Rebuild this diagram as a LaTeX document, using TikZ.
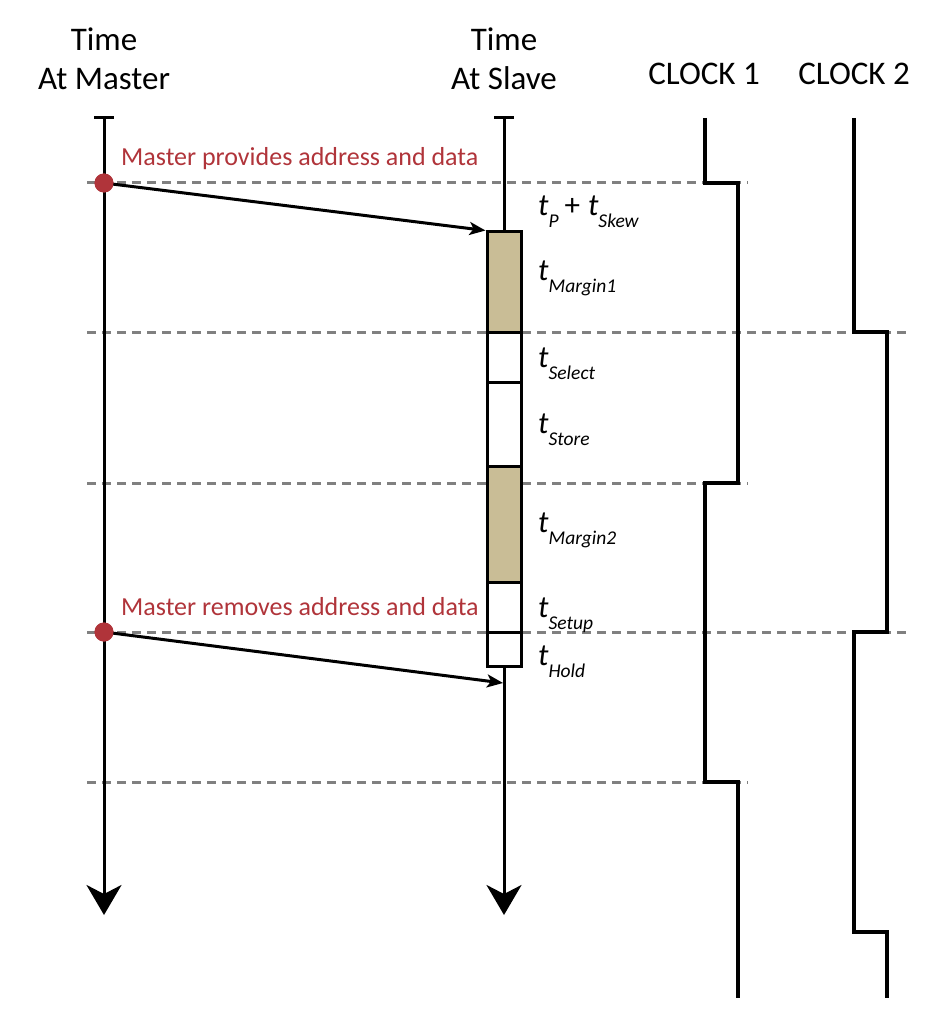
\documentclass[tikz,border=0pt]{standalone}
\usepackage{fontspec}
\setmainfont{Carlito}
\usetikzlibrary{arrows.meta}
\definecolor{mred}{RGB}{176,52,58}
\definecolor{dgray}{RGB}{128,128,128}
\definecolor{tanfill}{RGB}{201,189,150}
\newcommand{\tlab}[1]{{\fontsize{31}{31}\selectfont\itshape t}\raisebox{-12pt}{\fontsize{19.5}{19.5}\selectfont\itshape #1}}
\begin{document}
\begin{tikzpicture}[x=1pt,y=-1pt,
  axis/.style={line width=3pt,black},
  gridline/.style={dgray,line width=3pt,dash pattern=on 9pt off 6pt},
  clk/.style={line width=3.5pt,black,line join=miter},
  seg/.style={draw,line width=3pt,minimum width=34pt,inner sep=0pt,fill=white},
  dotn/.style={circle,fill=mred,minimum size=19pt,inner sep=0pt},
  title/.style={font=\fontsize{33}{39}\selectfont,align=center,inner sep=0pt},
  lab/.style={anchor=base west,inner sep=0pt},
  redlab/.style={anchor=base west,inner sep=0pt,text=mred,font=\fontsize{26}{30}\selectfont},
  bigarrow/.style={-{Stealth[length=30pt,width=35pt,inset=9pt]}},
  smallarrow/.style={-{Stealth[length=16pt,width=13pt,inset=4pt]}}]
\useasboundingbox (0,0) rectangle (924,1016);

% dashed guide lines
\draw[gridline] (87,183) -- (748,183);
\draw[gridline] (87,332) -- (906,332);
\draw[gridline] (87,483) -- (748,483);
\draw[gridline] (87,632) -- (906,632);
\draw[gridline] (87,782) -- (748,782);

% titles
\node[title,anchor=base] (tm) at (104,90) {Time\\At Master};
\node[title,anchor=base] (ts) at (504,90) {Time\\At Slave};
\node[title,anchor=base] (c1) at (704,85) {CLOCK 1};
\node[title,anchor=base] (c2) at (854,85) {CLOCK 2};

% master line
\coordinate (mtop) at (104,118);
\coordinate (mend) at (104,915);
\draw[axis] ([xshift=-10pt]mtop) -- ([xshift=10pt]mtop);
\draw[axis,bigarrow] (mtop) -- (mend);

% slave box segments
\node[seg,fill=tanfill,minimum height=100pt] (m1) at (504,282) {};
\node[seg,minimum height=50pt] (sel) at (504,357) {};
\node[seg,minimum height=84pt] (sto) at (504,424) {};
\node[seg,fill=tanfill,minimum height=116pt] (m2) at (504,524) {};
\node[seg,minimum height=50pt] (setup) at (504,607) {};
\node[seg,minimum height=34pt] (hold) at (504,649) {};

% slave line
\coordinate (stop) at (504,118);
\coordinate (send) at (504,915);
\draw[axis] ([xshift=-10pt]stop) -- ([xshift=10pt]stop);
\draw[axis] (stop) -- (m1.north);
\draw[axis,bigarrow] (hold.south) -- (send);

% events
\node[dotn] (d1) at (104,183) {};
\node[dotn] (d2) at (104,632) {};
\coordinate (h2) at (503,683);
\draw[axis,smallarrow] (d1.center) -- (m1.north west);
\draw[axis,smallarrow] (d2.center) -- (h2);
\node[dotn] at (d1) {};
\node[dotn] at (d2) {};
\node[redlab] (r1) at (121,166) {Master provides address and data};
\node[redlab] (r2) at (121,615) {Master removes address and data};

% timing labels
\node[lab] (l0) at (538,216) {\tlab{P}\hspace{6pt}{\fontsize{31}{31}\selectfont+}\hspace{8pt}\tlab{Skew}};
\node[lab] (l1) at (538,280) {\tlab{Margin1}};
\node[lab] (l2) at (538,367) {\tlab{Select}};
\node[lab] (l3) at (538,433) {\tlab{Store}};
\node[lab] (l4) at (538,532) {\tlab{Margin2}};
\node[lab] (l5) at (538,617) {\tlab{Setup}};
\node[lab] (l6) at (538,665) {\tlab{Hold}};

% clocks
\coordinate (k1a) at (705,118);
\coordinate (k1b) at (705,183);
\coordinate (k1c) at (738,183);
\coordinate (k1d) at (738,483);
\coordinate (k1e) at (705,483);
\coordinate (k1f) at (705,782);
\coordinate (k1g) at (738,782);
\coordinate (k1h) at (738,998);
\draw[clk] (k1a) -- (k1b) -- (k1c) -- (k1d) -- (k1e) -- (k1f) -- (k1g) -- (k1h);
\coordinate (k2a) at (854,118);
\coordinate (k2b) at (854,332);
\coordinate (k2c) at (887,332);
\coordinate (k2d) at (887,632);
\coordinate (k2e) at (854,632);
\coordinate (k2f) at (854,932);
\coordinate (k2g) at (887,932);
\coordinate (k2h) at (887,998);
\draw[clk] (k2a) -- (k2b) -- (k2c) -- (k2d) -- (k2e) -- (k2f) -- (k2g) -- (k2h);
\end{tikzpicture}
\end{document}
